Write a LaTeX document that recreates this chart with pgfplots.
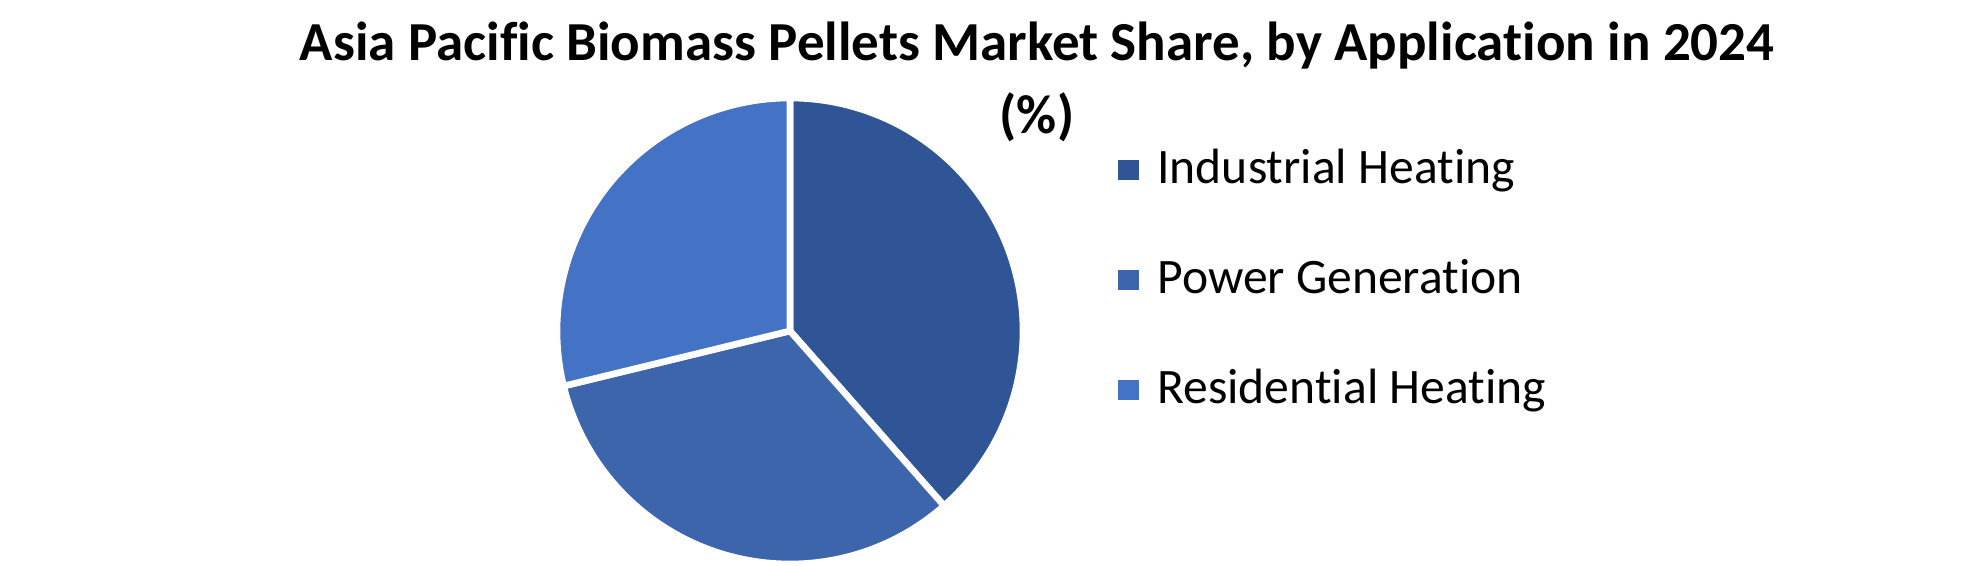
\documentclass[border=0pt]{standalone}
\usepackage{fontspec}
\setmainfont{Carlito}[Ligatures=NoCommon]
\usepackage{pgfplots}
\usepackage{pgfplotstable}
\pgfplotsset{compat=1.18}

\definecolor{cInd}{HTML}{2F5597}
\definecolor{cPow}{HTML}{3C65AC}
\definecolor{cRes}{HTML}{4472C4}

% market share by application, 2024 (%)
\pgfplotstableread{
app         share
Industrial  38.5
Power       32.7
Residential 28.8
}\sharetable

\begin{document}
\begin{tikzpicture}[x=0.5pt,y=0.5pt]
\path[use as bounding box] (0,0) rectangle (1980,566);

\pgfplotstablegetelem{0}{share}\of\sharetable \pgfmathsetmacro\sA{\pgfplotsretval}
\pgfplotstablegetelem{1}{share}\of\sharetable \pgfmathsetmacro\sB{\pgfplotsretval}
\pgfplotstablegetelem{2}{share}\of\sharetable \pgfmathsetmacro\sC{\pgfplotsretval}
\pgfmathsetmacro\aA{90-3.6*\sA}
\pgfmathsetmacro\aB{\aA-3.6*\sB}
\pgfmathsetmacro\aC{\aB-3.6*\sC}

\begin{axis}[
    at={(395pt,117.5pt)}, anchor=center,
    scale only axis, width=233pt, height=233pt,
    xmin=-1, xmax=1, ymin=-1, ymax=1,
    hide axis, clip=false,
  ]
  \addplot[fill=cInd, draw=white, line width=3.3pt, domain=\aA:90, samples=150]
    ({cos(x)},{sin(x)}) -- (0,0) -- cycle;
  \addplot[fill=cPow, draw=white, line width=3.3pt, domain=\aB:\aA, samples=150]
    ({cos(x)},{sin(x)}) -- (0,0) -- cycle;
  \addplot[fill=cRes, draw=white, line width=3.3pt, domain=\aC:\aB, samples=150]
    ({cos(x)},{sin(x)}) -- (0,0) -- cycle;
\end{axis}

\node[anchor=base, inner sep=0, font=\bfseries\fontsize{27.5pt}{32pt}\selectfont]
  at (1037,505) {Asia Pacific Biomass Pellets Market Share, by Application in 2024};
\node[anchor=base, inner sep=0, font=\bfseries\fontsize{27.5pt}{32pt}\selectfont]
  at (1037,432) {(\%)};

\foreach \c/\name/\y in {cInd/Industrial Heating/396, cPow/Power Generation/286, cRes/Residential Heating/176}{
  \fill[\c] (1118,\y-10) rectangle (1139,\y+10);
  \node[anchor=base west, inner sep=0, font=\fontsize{24.8pt}{28pt}\selectfont] at (1157,\y-14) {\name};
}
\end{tikzpicture}
\end{document}
